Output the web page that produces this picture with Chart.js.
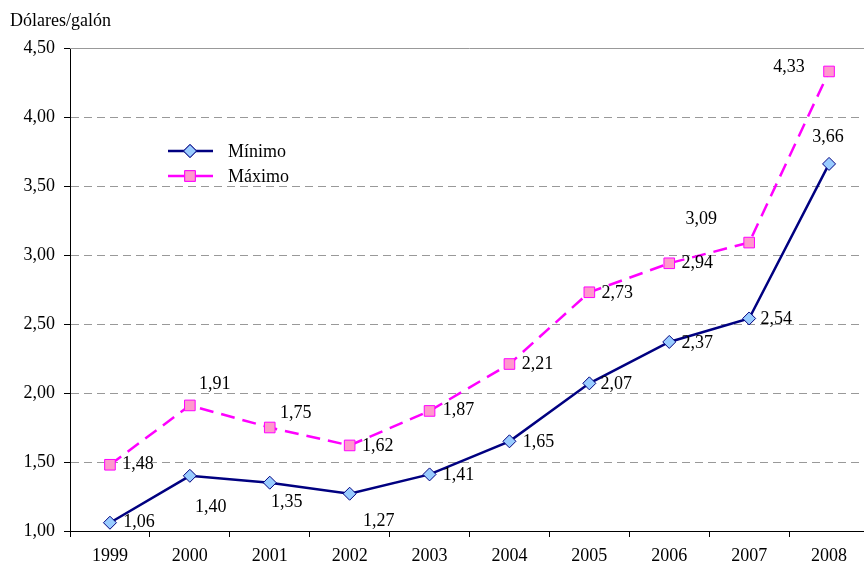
<!DOCTYPE html>
<html>
<head>
<meta charset="utf-8">
<script src="https://cdn.jsdelivr.net/npm/chart.js@4.4.1/dist/chart.umd.min.js"></script>
<style>
  html, body { margin: 0; padding: 0; background: #fff; overflow: hidden; }
  #wrap { width: 864px; height: 566px; overflow: hidden; }
  #c { display: block; }
</style>
</head>
<body>
<div id="wrap"><canvas id="c" width="869" height="566"></canvas></div>
<script>
// Precio del combustible, dólares por galón
const years = ['1999', '2000', '2001', '2002', '2003', '2004', '2005', '2006', '2007', '2008'];
const minimo = [1.06, 1.40, 1.35, 1.27, 1.41, 1.65, 2.07, 2.37, 2.54, 3.66];
const maximo = [1.48, 1.91, 1.75, 1.62, 1.87, 2.21, 2.73, 2.94, 3.09, 4.33];
const yTicks = [1.0, 1.5, 2.0, 2.5, 3.0, 3.5, 4.0, 4.5];

// Where each value label sits relative to its point (text centre, px)
const minLabelShift = [[29, 0], [21, 31], [17, 20], [29, 28], [29, 1], [29, 1], [27, 1], [28, 1], [27, 1], [-1, -27]];
const maxLabelShift = [[28, 0], [25, -21], [26, -14], [28, 1], [29, -1], [28, 0], [28, 1], [28, 0], [-48, -23], [-40, -4]];

const FONT = '"Liberation Serif", "Times New Roman", serif';
const fmt = v => v.toFixed(2).replace('.', ',');

const NAVY = '#000080', LIGHTBLUE = '#99ccff';
const MAGENTA = '#ff00ff', PINK = '#ff99cc';

const decorations = {
  id: 'decorations',
  beforeDatasetsDraw(chart) {
    const { ctx, chartArea } = chart;
    // solid frame line along the top of the plot
    ctx.save();
    ctx.strokeStyle = '#999999';
    ctx.lineWidth = 1;
    ctx.beginPath();
    ctx.moveTo(chartArea.left, Math.round(chartArea.top) + 0.5);
    ctx.lineTo(chartArea.right, Math.round(chartArea.top) + 0.5);
    ctx.stroke();
    ctx.restore();
  },
  afterDatasetsDraw(chart) {
    const { ctx } = chart;
    ctx.save();
    ctx.font = '18px ' + FONT;
    ctx.fillStyle = '#000';
    ctx.textAlign = 'center';
    ctx.textBaseline = 'middle';
    const shifts = [minLabelShift, maxLabelShift];
    chart.data.datasets.forEach((ds, di) => {
      const meta = chart.getDatasetMeta(di);
      meta.data.forEach((pt, i) => {
        const [dx, dy] = shifts[di][i];
        ctx.fillText(fmt(ds.data[i]), pt.x + dx, pt.y + dy);
      });
    });

    // axis caption
    ctx.textAlign = 'left';
    ctx.fillText('Dólares/galón', 10, 21);

    // legend inside the plot
    const entries = [
      { label: 'Mínimo', color: NAVY, fill: LIGHTBLUE, style: 'rectRot', y: 151, r: 6.5 },
      { label: 'Máximo', color: MAGENTA, fill: PINK, style: 'rect', y: 176, r: 7.5 }
    ];
    entries.forEach(e => {
      ctx.strokeStyle = e.color;
      ctx.lineWidth = 2.5;
      ctx.setLineDash([]);
      ctx.beginPath();
      ctx.moveTo(168, e.y);
      ctx.lineTo(213, e.y);
      ctx.stroke();
      ctx.fillStyle = e.fill;
      ctx.strokeStyle = e.color;
      ctx.lineWidth = 1;
      Chart.helpers.drawPoint(ctx, { pointStyle: e.style, radius: e.r, borderWidth: 1 }, 190, e.y);
      ctx.fill();
      ctx.stroke();
      ctx.fillStyle = '#000';
      ctx.fillText(e.label, 228, e.y + 1);
    });
    ctx.restore();
  }
};

new Chart(document.getElementById('c'), {
  type: 'line',
  data: {
    labels: years,
    datasets: [
      {
        label: 'Mínimo',
        data: minimo,
        borderColor: NAVY,
        borderWidth: 2.5,
        backgroundColor: LIGHTBLUE,
        pointStyle: 'rectRot',
        pointRadius: 6.5,
        pointHoverRadius: 6.5,
        pointBackgroundColor: LIGHTBLUE,
        pointBorderColor: NAVY,
        pointBorderWidth: 1,
        tension: 0,
        fill: false,
        clip: false
      },
      {
        label: 'Máximo',
        data: maximo,
        borderColor: MAGENTA,
        borderWidth: 2.5,
        borderDash: [14, 8],
        backgroundColor: PINK,
        pointStyle: 'rect',
        pointRadius: 7.5,
        pointHoverRadius: 7.5,
        pointBackgroundColor: PINK,
        pointBorderColor: MAGENTA,
        pointBorderWidth: 1,
        tension: 0,
        fill: false,
        clip: false
      }
    ]
  },
  options: {
    responsive: false,
    animation: false,
    devicePixelRatio: 1,
    layout: { autoPadding: false, padding: { top: 48, right: 0, bottom: 0, left: 0 } },
    plugins: {
      legend: { display: false },
      tooltip: { enabled: false },
      title: { display: false }
    },
    scales: {
      x: {
        offset: true,
        grid: {
          offset: true,
          drawOnChartArea: false,
          drawTicks: true,
          tickLength: 6,
          color: '#000'
        },
        border: { display: true, color: '#000', width: 1 },
        ticks: {
          color: '#000',
          font: { family: FONT, size: 18 },
          padding: 8,
          maxRotation: 0
        },
        afterFit(scale) {
          scale.height = 35;
          scale.paddingLeft = 0;
          scale.paddingRight = 0;
        }
      },
      y: {
        min: 1,
        max: 4.5,
        afterBuildTicks(scale) { scale.ticks = yTicks.map(v => ({ value: v })); },
        grid: {
          color: ctx => (ctx.tick && (ctx.tick.value === 1 || ctx.tick.value === 4.5)) ? 'rgba(0,0,0,0)' : '#999999',
          tickColor: '#000',
          tickLength: 6,
          lineWidth: 1
        },
        border: { display: true, color: '#000', width: 1, dash: [8, 5] },
        ticks: {
          color: '#000',
          font: { family: FONT, size: 18 },
          padding: 9,
          callback: v => fmt(v)
        },
        afterFit(scale) { scale.width = 70; }
      }
    }
  },
  plugins: [decorations]
});
</script>
</body>
</html>
